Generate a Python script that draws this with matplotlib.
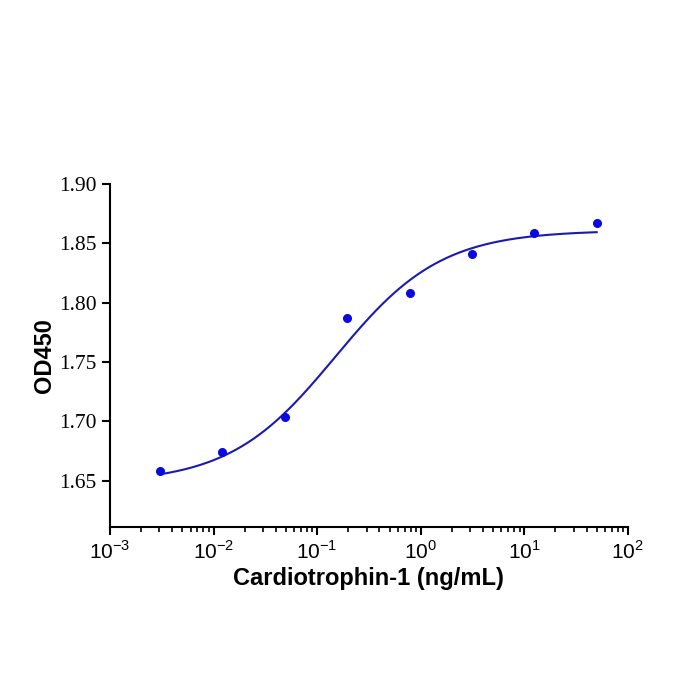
import numpy as np
import matplotlib
matplotlib.use("Agg")
import matplotlib.pyplot as plt
from matplotlib.ticker import LogLocator, NullFormatter

# measured points
conc = [0.00305, 0.0122, 0.0488, 0.195, 0.781, 3.125, 12.5, 50.0]
od450 = [1.658, 1.674, 1.704, 1.787, 1.808, 1.841, 1.859, 1.867]

# 4PL fit parameters (bottom, top, EC50, hill)
fit_bottom, fit_top, fit_ec50, fit_hill = 1.648, 1.861, 0.15, 0.85

x_ticks = [1e-3, 1e-2, 1e-1, 1e0, 1e1, 1e2]
x_ticklabels = ["10$^{-3}$", "10$^{-2}$", "10$^{-1}$", "10$^{0}$", "10$^{1}$", "10$^{2}$"]
y_ticks = [1.65, 1.70, 1.75, 1.80, 1.85, 1.90]

plt.rcParams['mathtext.fontset'] = 'custom'
plt.rcParams['mathtext.rm'] = 'Liberation Sans'

fig = plt.figure(figsize=(7, 7), dpi=100)
ax = fig.add_axes([0.157, 0.247, 0.740, 0.490])

xs = np.logspace(np.log10(conc[0]), np.log10(conc[-1]), 300)
ys = fit_bottom + (fit_top - fit_bottom) / (1 + (fit_ec50 / xs) ** fit_hill)
ax.plot(xs, ys, color='#1a1ab0', lw=1.5)
ax.plot(conc, od450, 'o', color='#0a0ae0', ms=5.5)

ax.set_xscale('log')
ax.set_xlim(1e-3, 1e2)
ax.set_ylim(1.611, 1.90)
ax.set_xticks(x_ticks)
ax.set_xticklabels(x_ticklabels, fontsize=15, family='Liberation Sans')
ax.xaxis.set_minor_locator(LogLocator(base=10, subs=np.arange(2, 10)))
ax.xaxis.set_minor_formatter(NullFormatter())
ax.set_yticks(y_ticks)
ax.set_yticklabels([f"{v:.2f}" for v in y_ticks], fontsize=15.5, family='Liberation Serif')

for s in ['top', 'right']:
    ax.spines[s].set_visible(False)
for s in ['left', 'bottom']:
    ax.spines[s].set_linewidth(1.5)
ax.tick_params(axis='both', which='major', length=6, width=1.5, direction='out')
ax.tick_params(axis='x', which='minor', length=3.5, width=1.2, direction='out')

ax.set_xlabel('Cardiotrophin-1 (ng/mL)', fontsize=17, fontweight='bold',
              family='Liberation Sans', labelpad=3)
ax.set_ylabel('OD450', fontsize=17, fontweight='bold', family='Liberation Sans', labelpad=2)

fig.savefig('out.png', dpi=100)
